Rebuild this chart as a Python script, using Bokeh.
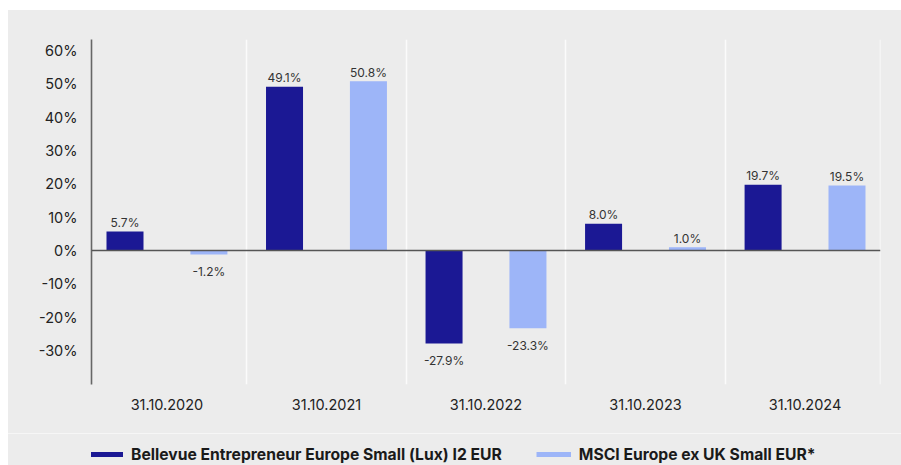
from bokeh.plotting import figure
from bokeh.models import (Range1d, FixedTicker, PrintfTickFormatter, Span,
                          ColumnDataSource, Legend, LegendItem, Spacer, Div)
from bokeh.layouts import column, row
from bokeh.transform import dodge
from bokeh.core.properties import value
from bokeh.embed import file_html
from bokeh.resources import INLINE

# ---- data ----
categories = ["31.10.2020", "31.10.2021", "31.10.2022", "31.10.2023", "31.10.2024"]
fund_name = "Bellevue Entrepreneur Europe Small (Lux) I2 EUR"
index_name = "MSCI Europe ex UK Small EUR*"
fund_values = [5.7, 49.1, -27.9, 8.0, 19.7]
index_values = [-1.2, 50.8, -23.3, 1.0, 19.5]
y_ticks = [-30, -20, -10, 0, 10, 20, 30, 40, 50, 60]

# ---- style ----
DARK = "#1b1894"
LIGHT = "#9db5f8"
BG = "#ececec"
FONT = "Inter"

idx = list(range(len(categories)))
src = ColumnDataSource(dict(
    x=idx,
    fund=fund_values,
    index=index_values,
    fund_lbl=[f"{v:.1f}%" for v in fund_values],
    index_lbl=[f"{v:.1f}%" for v in index_values],
    fund_off=[-9 if v >= 0 else 17 for v in fund_values],
    index_off=[-9 if v >= 0 else 17 for v in index_values],
))

X0, X1 = -0.473, 4.473
p = figure(width=893, height=423, x_range=Range1d(X0, X1), y_range=Range1d(-40.2, 63.3),
           output_backend="svg", toolbar_location=None, title=None,
           min_border_left=83, min_border_right=21, min_border_top=29, min_border_bottom=49,
           background_fill_color=BG, border_fill_color=BG, outline_line_color=None)

OFF = 0.263
W = 0.232
p.vbar(x=dodge("x", -OFF, range=p.x_range), top="fund", bottom=0, width=W,
       fill_color=DARK, line_color=None, source=src)
p.vbar(x=dodge("x", OFF, range=p.x_range), top="index", bottom=0, width=W,
       fill_color=LIGHT, line_color=None, source=src)

for col, lbl, off, dx in (("fund", "fund_lbl", "fund_off", -OFF), ("index", "index_lbl", "index_off", OFF)):
    p.text(x=dodge("x", dx, range=p.x_range), y=col, text=lbl, y_offset=off, source=src,
           text_align="center", text_baseline="alphabetic", text_font=value(FONT),
           text_font_size="12px", text_color="#333333")

p.add_layout(Span(location=0, dimension="width", line_color="#555555", line_width=1.6))

# axes
p.xaxis.ticker = FixedTicker(ticks=idx)
p.xaxis.major_label_overrides = {i: c for i, c in zip(idx, categories)}
p.xaxis.axis_line_color = None
p.xaxis.major_tick_line_color = None
p.xaxis.minor_tick_line_color = None
p.xaxis.major_tick_out = 0
p.xaxis.major_tick_in = 0
p.xaxis.major_label_standoff = 14
p.xaxis.major_label_text_font = FONT
p.xaxis.major_label_text_font_size = "14.5px"
p.xaxis.major_label_text_color = "#222222"

p.yaxis.ticker = FixedTicker(ticks=y_ticks)
p.yaxis.formatter = PrintfTickFormatter(format="%d%%")
p.yaxis.axis_line_color = "#666666"
p.yaxis.axis_line_width = 1.6
p.yaxis.major_tick_line_color = None
p.yaxis.minor_tick_line_color = None
p.yaxis.major_tick_out = 0
p.yaxis.major_tick_in = 0
p.yaxis.major_label_standoff = 14
p.yaxis.major_label_text_font = FONT
p.yaxis.major_label_text_font_size = "14.5px"
p.yaxis.major_label_text_color = "#222222"

p.ygrid.grid_line_color = None
p.xgrid.ticker = FixedTicker(ticks=[i + 0.5 for i in idx[:-1]] + [X1 - 0.002])
p.xgrid.grid_line_color = "#fbfbfb"
p.xgrid.grid_line_width = 1.6

# ---- separator ----
sep = Div(text="", width=893, height=1, margin=0,
          styles={"background-color": "#f6f6f6"})

# ---- legend strip ----
p2 = figure(width=893, height=31, x_range=Range1d(0, 10), y_range=Range1d(0, 10),
            output_backend="svg", toolbar_location=None, title=None,
            x_axis_location=None, y_axis_location=None,
            min_border_left=83, min_border_right=21, min_border_top=0, min_border_bottom=0,
            background_fill_color=BG, border_fill_color=BG, outline_line_color=None)
p2.background_fill_alpha = 0
p2.border_fill_alpha = 0
p2.xgrid.visible = False
p2.ygrid.visible = False
# off-screen dummy renderers that only provide the legend swatches
r1 = p2.line(x=[-100, -99], y=[-100, -100], line_color=DARK, line_width=5)
r2 = p2.line(x=[-100, -99], y=[-100, -100], line_color=LIGHT, line_width=5)
legend = Legend(items=[LegendItem(label=fund_name, renderers=[r1]),
                       LegendItem(label=index_name, renderers=[r2])],
                orientation="horizontal", location=(-3, 1),
                label_text_font=FONT, label_text_font_size="15.7px", label_text_font_style="bold",
                label_text_color="#1a1a1a", background_fill_alpha=0, border_line_color=None,
                padding=0, margin=0, spacing=34, glyph_width=35, glyph_height=20,
                label_standoff=8, label_height=20)
p2.add_layout(legend)

panel = column(p, sep, p2, styles={"background-color": BG})
layout = column(Spacer(width=901, height=10),
                row(Spacer(width=8, height=455), panel))

open("out.html", "w").write(file_html(layout, INLINE))
